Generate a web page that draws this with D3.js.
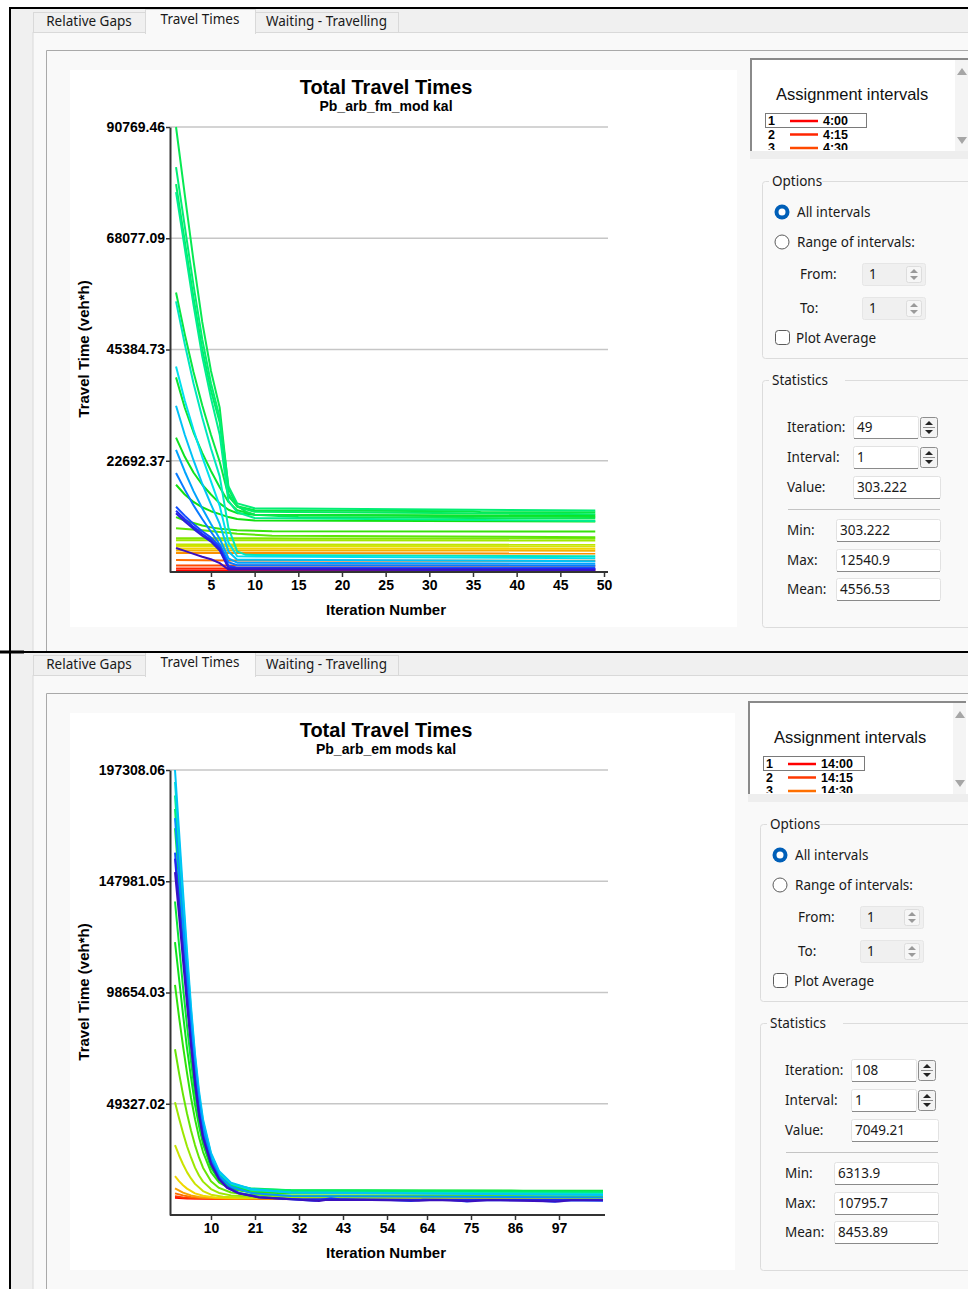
<!DOCTYPE html>
<html>
<head>
<meta charset="utf-8">
<script src="https://cdn.jsdelivr.net/npm/d3@7"></script>
<style>
  body { margin: 0; background: #fff; }
  svg { display: block; }
  .ui { font-family: "Noto Sans", "Open Sans", sans-serif; font-size: 13.5px; fill: #1a1a1a; }
  .ch { font-family: "Liberation Sans", Arial, sans-serif; font-weight: bold; fill: #000; }
</style>
</head>
<body>
<svg id="chart" width="968" height="1289"></svg>
<script>
// ---- data: top screen (Pb_arb_fm_mod kal), 49 iterations ----
const topTitle = "Total Travel Times";
const topSubtitle = "Pb_arb_fm_mod kal";
const topXTicks = [5, 10, 15, 20, 25, 30, 35, 40, 45, 50];
const topYTicks = [22692.37, 45384.73, 68077.09, 90769.46];
const topIntervals = ["4:00", "4:15", "4:30"];
const topStats = ["49", "1", "303.222", "303.222", "12540.9", "4556.53"];
// one entry per assignment interval: [iteration, total travel time]
const topSeries = [
  [[1, 303], [49, 303]],
  [[1, 720], [49, 680]],
  [[1, 1350], [49, 1250]],
  [[1, 2450], [7, 2350], [49, 2300]],
  [[1, 3900], [49, 3750]],
  [[1, 4400], [49, 4350]],
  [[1, 4800], [49, 4750]],
  [[1, 5300], [49, 5200]],
  [[1, 5600], [49, 5550]],
  [[1, 6500], [49, 6400]],
  [[1, 6900], [15, 6850], [49, 6800]],
  [[1, 8900], [4, 8500], [8, 7800], [12, 7400], [49, 7100]],
  [[1, 11200], [2, 10500], [3, 10000], [4, 9500], [5, 9100], [6, 8800], [8, 8500], [12, 8300], [49, 8250]],
  [[1, 17800], [2, 15800], [3, 14300], [4, 13200], [5, 12400], [6, 11800], [7, 11200], [8, 10800], [10, 10500], [49, 10300]],
  [[1, 27400], [2, 23500], [3, 20300], [4, 17800], [5, 15800], [6, 14000], [7, 12700], [8, 12000], [10, 11700], [49, 11500]],
  [[1, 39700], [2, 33500], [3, 28500], [4, 24300], [5, 20600], [6, 17300], [7, 14300], [8, 12600], [10, 11700], [49, 11200]],
  [[1, 57000], [2, 48500], [3, 40800], [4, 34000], [5, 28000], [6, 22500], [7, 15500], [8, 13400], [10, 12600], [35, 12400], [36, 12200], [49, 12200]],
  [[1, 90769], [2, 77000], [3, 63500], [4, 51000], [5, 41000], [6, 33500], [7, 17000], [8, 13500], [9, 12300], [10, 11700], [15, 11200], [49, 10900]],
  [[1, 79100], [2, 67500], [3, 56000], [4, 45500], [5, 37000], [6, 30500], [7, 16000], [8, 13300], [10, 12300], [49, 11800]],
  [[1, 82600], [2, 70500], [3, 58500], [4, 47500], [5, 38500], [6, 31500], [7, 17500], [8, 14000], [10, 13000], [49, 12540.9]],
  [[1, 77500], [2, 66000], [3, 54500], [4, 44000], [5, 35500], [6, 28000], [7, 14500], [8, 12200], [10, 11000], [49, 10400]],
  [[1, 55200], [2, 46500], [3, 38500], [4, 31500], [5, 25200], [6, 19500], [7, 9000], [8, 4200], [9, 3500], [49, 3200]],
  [[1, 41900], [2, 35000], [3, 29000], [4, 23500], [5, 18500], [6, 13500], [7, 6000], [8, 3200], [49, 2800]],
  [[1, 33900], [2, 28000], [3, 22800], [4, 18000], [5, 13800], [6, 9800], [7, 4200], [8, 2500], [49, 2200]],
  [[1, 24900], [2, 20500], [3, 16500], [4, 13000], [5, 9800], [6, 6800], [7, 2800], [8, 1900], [49, 1700]],
  [[1, 20200], [2, 16800], [3, 13600], [4, 10800], [5, 8200], [6, 5600], [7, 2000], [8, 1400], [49, 1300]],
  [[1, 13300], [2, 11500], [3, 9800], [4, 8300], [5, 7000], [6, 5200], [7, 1300], [8, 850], [49, 800]],
  [[1, 12500], [2, 10800], [3, 9200], [4, 7800], [5, 6500], [6, 4800], [7, 1000], [8, 650], [49, 600]],
  [[1, 12000], [2, 10300], [3, 8800], [4, 7400], [5, 6200], [6, 4400], [7, 800], [49, 450]],
  [[1, 4900], [2, 4300], [3, 3700], [4, 3100], [5, 2600], [6, 1800], [7, 500], [49, 330]]
];

// ---- data: bottom screen (Pb_arb_em mods kal), 108 iterations ----
const botTitle = "Total Travel Times";
const botSubtitle = "Pb_arb_em mods kal";
const botXTicks = [10, 21, 32, 43, 54, 64, 75, 86, 97];
const botYTicks = [49327.02, 98654.03, 147981.05, 197308.06];
const botIntervals = ["14:00", "14:15", "14:30"];
const botStats = ["108", "1", "7049.21", "6313.9", "10795.7", "8453.89"];
const botSeries = [
  [[1, 7600], [4, 7300], [10, 7150], [108, 7049]],
  [[1, 8300], [3, 7800], [6, 7400], [12, 7150], [108, 7000]],
  [[1, 9600], [3, 8700], [5, 8000], [8, 7500], [14, 7250], [108, 7100]],
  [[1, 11800], [3, 9900], [5, 8700], [7, 8000], [10, 7600], [16, 7350], [108, 7200]],
  [[1, 17200], [2, 15000], [3, 13200], [4, 11700], [6, 9600], [8, 8500], [11, 7800], [16, 7500], [108, 7300]],
  [[1, 31000], [2, 26500], [3, 22500], [4, 19000], [5, 16200], [6, 13800], [8, 10600], [10, 9000], [13, 8100], [18, 7700], [108, 7500]],
  [[1, 50000], [2, 43000], [3, 36500], [4, 30500], [5, 25500], [6, 21000], [7, 17500], [8, 14800], [10, 11500], [12, 9800], [15, 8700], [20, 8200], [108, 7900]],
  [[1, 73500], [2, 63000], [3, 53500], [4, 45000], [5, 37500], [6, 31000], [7, 25500], [8, 21000], [10, 15000], [12, 12000], [15, 10000], [20, 9000], [30, 8600], [108, 8300]],
  [[1, 102000], [2, 88000], [3, 75000], [4, 63000], [5, 52000], [6, 42500], [7, 34500], [8, 28000], [10, 19000], [12, 14500], [15, 11500], [20, 10000], [30, 9600], [108, 9300]],
  [[1, 121000], [2, 105000], [3, 89000], [4, 74000], [5, 61000], [6, 49000], [7, 39500], [8, 31500], [10, 21000], [12, 15500], [15, 12200], [20, 10800], [30, 10400], [108, 10100]],
  [[1, 139000], [2, 120000], [3, 101000], [4, 84000], [5, 68000], [6, 54000], [7, 42500], [8, 33500], [10, 22000], [12, 16000], [15, 12500], [20, 11200], [30, 10900], [85, 10900], [88, 10700], [108, 10796]],
  [[1, 171500], [2, 148000], [3, 124000], [4, 101000], [5, 80000], [6, 62000], [7, 47500], [8, 37000], [10, 24000], [12, 17000], [15, 13000], [20, 11500], [30, 11000], [108, 10500]],
  [[1, 180000], [2, 155000], [3, 130000], [4, 106000], [5, 84000], [6, 65000], [7, 50000], [8, 39000], [10, 25500], [12, 18000], [15, 13500], [20, 11800], [30, 11000], [108, 10200]],
  [[1, 186000], [2, 161000], [3, 136000], [4, 111000], [5, 88000], [6, 68000], [7, 52000], [8, 40500], [10, 26500], [12, 18800], [15, 14000], [20, 11500], [30, 10200], [108, 9600]],
  [[1, 192000], [2, 166000], [3, 140000], [4, 114000], [5, 90500], [6, 70000], [7, 53500], [8, 41500], [10, 27000], [12, 19000], [15, 14000], [20, 11200], [30, 10000], [108, 9300]],
  [[1, 197308], [2, 170500], [3, 143500], [4, 117000], [5, 92500], [6, 71500], [7, 55000], [8, 42500], [10, 27500], [12, 19500], [15, 14300], [20, 11500], [30, 10000], [108, 8900]],
  [[1, 176000], [2, 153000], [3, 130000], [4, 107000], [5, 85000], [6, 66000], [7, 50500], [8, 39000], [10, 25000], [12, 17500], [15, 12500], [20, 9800], [30, 8400], [108, 7800]],
  [[1, 160700], [2, 140000], [3, 119000], [4, 98000], [5, 78000], [6, 60500], [7, 46000], [8, 35500], [10, 23500], [12, 16500], [14, 12500], [17, 9800], [22, 8000], [28, 7200], [33, 6600], [36, 6300], [38, 6900], [40, 7400], [42, 7000], [46, 6800], [55, 6700], [60, 6200], [63, 6800], [70, 6600], [74, 6000], [77, 6600], [90, 6500], [96, 5900], [98, 6500], [108, 6314]],
  [[1, 158000], [2, 137500], [3, 117000], [4, 96500], [5, 77000], [6, 60000], [7, 45500], [8, 35000], [10, 23000], [12, 16000], [14, 12300], [17, 9600], [22, 7900], [30, 7100], [40, 7000], [60, 6800], [108, 6700]],
  [[1, 152000], [2, 133000], [3, 113000], [4, 93500], [5, 75000], [6, 58000], [7, 44000], [8, 34000], [10, 22500], [12, 15800], [14, 12000], [17, 9500], [22, 7800], [30, 7000], [34, 6500], [37, 6200], [39, 6800], [50, 6700], [62, 6300], [66, 6700], [75, 6100], [80, 6600], [97, 6000], [100, 6500], [108, 6500]]
];

const statLabels = ["Iteration:", "Interval:", "Value:", "Min:", "Max:", "Mean:"];
const tabLabels = ["Relative Gaps", "Travel Times", "Waiting - Travelling"];

// interval colour ramp, red (first interval) to blue (last)
const rainbow = d3.scaleLinear()
  .domain([0, .1, .22, .33, .45, .68, .76, .84, .92, 1])
  .range(["#ff0000", "#ff6a00", "#f0e000", "#90e800", "#10e010", "#00f080", "#00e0f0", "#0098ff", "#1830ff", "#3a10c0"]);

const svg = d3.select("#chart");
svg.append("rect").attr("width", 968).attr("height", 1289).attr("fill", "#fff");

function screen(off, cfg) {
  const g = svg.append("g").attr("transform", `translate(0,${off})`);
  const dx = cfg.dx;

  // window background + tabs
  g.append("rect").attr("x", 11).attr("y", 9).attr("width", 957).attr("height", cfg.h).attr("fill", "#f0f0f0");
  g.append("rect").attr("x", 33).attr("y", 32.5).attr("width", 940).attr("height", cfg.h).attr("fill", "#f9f9f9").attr("stroke", "#d9d9d9");
  const tabs = [[33, 145], [145, 255], [255, 398]];
  tabs.forEach((t, i) => {
    const active = i === 1;
    g.append("rect").attr("x", t[0] + .5).attr("y", active ? 9.5 : 12.5)
      .attr("width", t[1] - t[0]).attr("height", active ? 24 : 20)
      .attr("fill", active ? "#f9f9f9" : "#f0f0f0").attr("stroke", "#d9d9d9");
    g.append("text").attr("class", "ui").attr("x", (t[0] + t[1]) / 2).attr("y", active ? 24 : 26)
      .attr("text-anchor", "middle").text(tabLabels[i]);
  });
  g.append("line").attr("x1", 146).attr("x2", 255).attr("y1", 33).attr("y2", 33).attr("stroke", "#f9f9f9").attr("stroke-width", 2);

  // inner frame
  g.append("path").attr("d", `M46.5,${cfg.h + 9} V50.5 H968`).attr("fill", "none").attr("stroke", "#a9a9a9");

  // white plot area
  g.append("rect").attr("x", 70).attr("y", 70).attr("width", cfg.plotW).attr("height", 557).attr("fill", "#fff");

  // chart
  const x = d3.scaleLinear().domain(cfg.xDomain).range(cfg.xRange);
  const y = d3.scaleLinear().domain([0, cfg.yTicks[3]]).range([572, 127]);

  g.append("text").attr("class", "ch").attr("x", 386).attr("y", 94).attr("text-anchor", "middle")
    .attr("font-size", 20).text(cfg.title);
  g.append("text").attr("class", "ch").attr("x", 386).attr("y", 111).attr("text-anchor", "middle")
    .attr("font-size", 14).text(cfg.subtitle);

  g.append("g").selectAll("line").data(cfg.yTicks).join("line")
    .attr("x1", 170).attr("x2", 608).attr("y1", d => y(d)).attr("y2", d => y(d))
    .attr("stroke", "#c6c6c6").attr("stroke-width", 1.5);

  const line = d3.line().x(d => x(d[0])).y(d => y(d[1]));
  const n = cfg.series.length;
  g.append("g").attr("fill", "none").attr("stroke-width", 2).attr("stroke-linejoin", "round")
    .selectAll("path").data(cfg.series).join("path")
    .attr("d", line).attr("stroke", (d, i) => rainbow(i / (n - 1)));

  const yAxis = g.append("g").attr("transform", "translate(170,0)")
    .call(d3.axisLeft(y).tickValues(cfg.yTicks).tickSize(4).tickSizeOuter(0).tickFormat(d3.format(".2f")));
  const xAxis = g.append("g").attr("transform", "translate(0,572)")
    .call(d3.axisBottom(x).tickValues(cfg.xTicks).tickSize(5).tickSizeOuter(0).tickFormat(d3.format("d")));
  xAxis.select(".domain").attr("d", `M170,0H${cfg.xEnd}`);
  [yAxis, xAxis].forEach(a => {
    a.select(".domain").attr("stroke", "#333").attr("stroke-width", 2);
    a.selectAll(".tick line").attr("stroke", "#333").attr("stroke-width", 1.5);
    a.selectAll("text").attr("class", "ch").attr("font-size", 14);
  });
  yAxis.selectAll("text").attr("x", -5);
  xAxis.selectAll("text").attr("y", 8);

  g.append("text").attr("class", "ch").attr("font-size", 15).attr("text-anchor", "middle")
    .attr("transform", "translate(89,349) rotate(-90)").text("Travel Time (veh*h)");
  g.append("text").attr("class", "ch").attr("font-size", 15).attr("text-anchor", "middle")
    .attr("x", 386).attr("y", 615).text("Iteration Number");

  // legend box (assignment intervals)
  const L = g.append("g").attr("transform", `translate(${dx},0)`);
  L.append("rect").attr("x", 750).attr("y", 58).attr("width", 230).attr("height", 93).attr("fill", "#fff");
  L.append("path").attr("d", "M751,151 V59 H968").attr("fill", "none").attr("stroke", "#8a8a8a").attr("stroke-width", 2);
  L.append("rect").attr("x", 750).attr("y", 151).attr("width", 230).attr("height", 8).attr("fill", "#eeeeee");
  L.append("rect").attr("x", 955).attr("y", 60).attr("width", 13).attr("height", 91).attr("fill", "#f4f4f4");
  L.append("path").attr("d", "M957,75 L962,68 L967,75 Z M957,137 L962,144 L967,137 Z").attr("fill", "#a6a6a6");
  L.append("text").attr("x", 776).attr("y", 100).attr("font-family", "'Liberation Sans', Arial, sans-serif")
    .attr("font-size", 16.5).attr("fill", "#111").text("Assignment intervals");
  const clip = "clip" + off;
  L.append("clipPath").attr("id", clip).append("rect").attr("x", 752).attr("y", 60).attr("width", 200).attr("height", 90);
  const rows = L.append("g").attr("clip-path", `url(#${clip})`);
  rows.append("rect").attr("x", 765.5).attr("y", 113.5).attr("width", 101).attr("height", 14).attr("fill", "none").attr("stroke", "#7a7a7a");
  cfg.intervals.forEach((lab, i) => {
    const yy = 125 + i * 13.5;
    rows.append("text").attr("class", "ch").attr("font-size", 12.5).attr("x", 768).attr("y", yy).text(i + 1);
    rows.append("line").attr("x1", 790).attr("x2", 818).attr("y1", yy - 4).attr("y2", yy - 4)
      .attr("stroke", rainbow(i / (n - 1))).attr("stroke-width", 2.5);
    rows.append("text").attr("class", "ch").attr("font-size", 12.5).attr("x", 823).attr("y", yy).text(lab);
  });

  // options group
  const P = g.append("g").attr("transform", `translate(${dx},0)`);
  function groupBox(y0, h, title) {
    P.append("rect").attr("x", 762.5).attr("y", y0 + .5).attr("width", 230).attr("height", h)
      .attr("rx", 3).attr("fill", "none").attr("stroke", "#dcdcdc");
    P.append("rect").attr("x", 769).attr("y", y0 - 3).attr("width", title.length * 7.6).attr("height", 8).attr("fill", "#f9f9f9");
    P.append("text").attr("class", "ui").attr("x", 772).attr("y", y0 + 5).text(title);
  }
  function spin(x0, y0) {
    P.append("rect").attr("x", x0 + .5).attr("y", y0 + .5).attr("width", 17).attr("height", 20)
      .attr("rx", 2).attr("fill", "#f3f3f3").attr("stroke", "#8d8d8d");
    P.append("line").attr("x1", x0 + 3).attr("x2", x0 + 15).attr("y1", y0 + 10.5).attr("y2", y0 + 10.5).attr("stroke", "#8d8d8d");
    P.append("path").attr("d", `M${x0 + 5},${y0 + 8} L${x0 + 9},${y0 + 4} L${x0 + 13},${y0 + 8} Z M${x0 + 5},${y0 + 13} L${x0 + 9},${y0 + 17} L${x0 + 13},${y0 + 13} Z`)
      .attr("fill", "#222");
  }
  function field(x0, y0, w, txt, disabled) {
    P.append("rect").attr("x", x0 + .5).attr("y", y0 + .5).attr("width", w).attr("height", 22).attr("rx", 2)
      .attr("fill", disabled ? "#f0f0f0" : "#fff").attr("stroke", disabled ? "#e6e6e6" : "#e2e2e2");
    if (!disabled) P.append("line").attr("x1", x0 + 1).attr("x2", x0 + w).attr("y1", y0 + 22.5).attr("y2", y0 + 22.5).attr("stroke", "#8a8a8a");
    P.append("text").attr("class", "ui").attr("x", x0 + (disabled ? 7 : 4)).attr("y", y0 + 16)
      .attr("fill", disabled ? "#a0a0a0" : "#1a1a1a").text(txt);
  }

  groupBox(181, 177, "Options");
  P.append("circle").attr("cx", 782).attr("cy", 212).attr("r", 7.5).attr("fill", "#005fb8");
  P.append("circle").attr("cx", 782).attr("cy", 212).attr("r", 3.5).attr("fill", "#fff");
  P.append("text").attr("class", "ui").attr("x", 797).attr("y", 217).text("All intervals");
  P.append("circle").attr("cx", 782).attr("cy", 242).attr("r", 7).attr("fill", "#fff").attr("stroke", "#5c5c5c");
  P.append("text").attr("class", "ui").attr("x", 797).attr("y", 247).text("Range of intervals:");
  [["From:", 263], ["To:", 297]].forEach(([lab, y0]) => {
    P.append("text").attr("class", "ui").attr("x", 800).attr("y", y0 + 16).text(lab);
    field(862, y0, 63, "1", true);
    P.append("rect").attr("x", 906.5).attr("y", y0 + 3.5).attr("width", 15).attr("height", 16).attr("rx", 2)
      .attr("fill", "#f6f6f6").attr("stroke", "#dddddd");
    P.append("path").attr("d", `M${910},${y0 + 10} L${914},${y0 + 6} L${918},${y0 + 10} Z M${910},${y0 + 13} L${914},${y0 + 17} L${918},${y0 + 13} Z`).attr("fill", "#9a9a9a");
  });
  P.append("rect").attr("x", 775.5).attr("y", 330.5).attr("width", 14).attr("height", 14).attr("rx", 3)
    .attr("fill", "#fff").attr("stroke", "#5c5c5c");
  P.append("text").attr("class", "ui").attr("x", 796).attr("y", 343).text("Plot Average");

  // statistics group
  groupBox(380, 247, "Statistics");
  const rowY = [416, 446, 476, 519, 549, 578];
  statLabels.forEach((lab, i) => {
    P.append("text").attr("class", "ui").attr("x", 787).attr("y", rowY[i] + 16).text(lab);
    if (i < 2) { field(853, rowY[i], 65, cfg.stats[i]); spin(920, rowY[i] + 1); }
    else if (i === 2) field(853, rowY[i], 87, cfg.stats[i]);
    else field(836, rowY[i], 104, cfg.stats[i]);
  });
  P.append("line").attr("x1", 788).attr("x2", 940).attr("y1", 509.5).attr("y2", 509.5).attr("stroke", "#c4c4c4");
}

screen(0, {
  h: 643, dx: 0, plotW: 667,
  title: topTitle, subtitle: topSubtitle,
  series: topSeries, xDomain: [0, 50], xRange: [167.3, 604], xEnd: 608, xTicks: topXTicks,
  yTicks: topYTicks, intervals: topIntervals, stats: topStats
});
screen(643, {
  h: 640, dx: -2, plotW: 665,
  title: botTitle, subtitle: botSubtitle,
  series: botSeries, xDomain: [0, 108], xRange: [171, 603], xEnd: 605, xTicks: botXTicks,
  yTicks: botYTicks, intervals: botIntervals, stats: botStats
});

// screenshot frame lines
svg.append("path").attr("d", "M10,1289 V8 H968").attr("fill", "none").attr("stroke", "#000").attr("stroke-width", 2);
svg.append("line").attr("x1", 0).attr("x2", 968).attr("y1", 652).attr("y2", 652).attr("stroke", "#000").attr("stroke-width", 2);
svg.append("line").attr("x1", 0).attr("x2", 24).attr("y1", 652).attr("y2", 652).attr("stroke", "#000").attr("stroke-width", 3);
</script>
</body>
</html>
